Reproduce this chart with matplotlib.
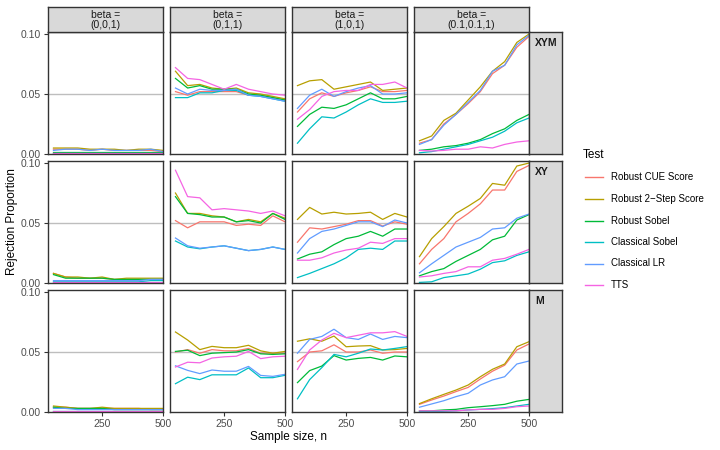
import numpy as np
import matplotlib.pyplot as plt

plt.rcParams['font.family'] = ['Liberation Sans', 'DejaVu Sans']

# sample sizes
n = [50, 100, 150, 200, 250, 300, 350, 400, 450, 500]

tests = ['Robust CUE Score', 'Robust 2\u2212Step Score', 'Robust Sobel',
         'Classical Sobel', 'Classical LR', 'TTS']
colors = ['#F8766D', '#B79F00', '#00BA38', '#00BFC4', '#619CFF', '#F564E3']

betas = ['beta =\n(0,0,1)', 'beta =\n(0,1,1)', 'beta =\n(1,0,1)', 'beta =\n(0.1,0.1,1)']
models = ['XYM', 'XY', 'M']

# rejection proportions, rows in the order of `tests`
# model XYM
xym_001 = [
    [0.004, 0.004, 0.004, 0.003, 0.004, 0.003, 0.003, 0.003, 0.003, 0.002],
    [0.005, 0.005, 0.005, 0.004, 0.004, 0.004, 0.003, 0.004, 0.004, 0.003],
    [0.002, 0.002, 0.002, 0.002, 0.002, 0.002, 0.002, 0.002, 0.002, 0.002],
    [0.001, 0.001, 0.001, 0.001, 0.001, 0.001, 0.001, 0.001, 0.001, 0.001],
    [0.003, 0.004, 0.004, 0.003, 0.004, 0.003, 0.003, 0.003, 0.004, 0.002],
    [0.001, 0.001, 0.001, 0.001, 0.001, 0.001, 0.001, 0.001, 0.001, 0.001],
]
xym_011 = [
    [0.052, 0.049, 0.052, 0.052, 0.052, 0.052, 0.049, 0.049, 0.047, 0.045],
    [0.069, 0.057, 0.058, 0.055, 0.054, 0.055, 0.051, 0.050, 0.048, 0.046],
    [0.063, 0.055, 0.057, 0.054, 0.054, 0.054, 0.050, 0.049, 0.047, 0.045],
    [0.047, 0.047, 0.051, 0.051, 0.053, 0.053, 0.049, 0.048, 0.046, 0.044],
    [0.055, 0.050, 0.054, 0.053, 0.053, 0.054, 0.049, 0.048, 0.046, 0.044],
    [0.072, 0.063, 0.062, 0.058, 0.054, 0.058, 0.054, 0.052, 0.050, 0.049],
]
xym_101 = [
    [0.035, 0.046, 0.051, 0.048, 0.051, 0.053, 0.056, 0.052, 0.052, 0.053],
    [0.057, 0.061, 0.062, 0.054, 0.056, 0.058, 0.060, 0.053, 0.054, 0.055],
    [0.023, 0.033, 0.039, 0.038, 0.041, 0.046, 0.051, 0.046, 0.046, 0.048],
    [0.009, 0.021, 0.031, 0.030, 0.035, 0.041, 0.046, 0.043, 0.043, 0.044],
    [0.038, 0.049, 0.054, 0.048, 0.052, 0.055, 0.057, 0.050, 0.050, 0.051],
    [0.029, 0.037, 0.048, 0.052, 0.053, 0.053, 0.058, 0.058, 0.060, 0.055],
]
xym_pp1 = [
    [0.009, 0.012, 0.025, 0.033, 0.042, 0.052, 0.067, 0.074, 0.089, 0.098],
    [0.011, 0.015, 0.028, 0.034, 0.045, 0.056, 0.069, 0.077, 0.093, 0.100],
    [0.003, 0.004, 0.006, 0.007, 0.009, 0.012, 0.017, 0.021, 0.028, 0.033],
    [0.001, 0.002, 0.004, 0.006, 0.008, 0.011, 0.014, 0.019, 0.026, 0.030],
    [0.008, 0.012, 0.024, 0.033, 0.043, 0.053, 0.069, 0.074, 0.091, 0.099],
    [0.003, 0.0025, 0.003, 0.004, 0.004, 0.006, 0.005, 0.008, 0.010, 0.011],
]
# model XY
xy_001 = [
    [0.008, 0.005, 0.004, 0.004, 0.004, 0.003, 0.003, 0.003, 0.003, 0.003],
    [0.008, 0.005, 0.005, 0.004, 0.005, 0.003, 0.004, 0.004, 0.004, 0.004],
    [0.007, 0.004, 0.004, 0.004, 0.004, 0.003, 0.003, 0.003, 0.003, 0.003],
    [0.001, 0.001, 0.001, 0.001, 0.001, 0.001, 0.001, 0.001, 0.002, 0.002],
    [0.002, 0.002, 0.002, 0.002, 0.002, 0.002, 0.002, 0.002, 0.003, 0.003],
    [0.001, 0.001, 0.001, 0.001, 0.001, 0.001, 0.001, 0.001, 0.001, 0.001],
]
xy_011 = [
    [0.052, 0.046, 0.051, 0.051, 0.051, 0.048, 0.049, 0.048, 0.056, 0.051],
    [0.075, 0.058, 0.058, 0.056, 0.055, 0.051, 0.053, 0.051, 0.058, 0.054],
    [0.072, 0.058, 0.057, 0.055, 0.055, 0.051, 0.052, 0.050, 0.058, 0.053],
    [0.035, 0.030, 0.0285, 0.030, 0.031, 0.029, 0.027, 0.028, 0.030, 0.028],
    [0.0375, 0.031, 0.029, 0.030, 0.031, 0.029, 0.027, 0.028, 0.030, 0.028],
    [0.094, 0.072, 0.071, 0.061, 0.062, 0.061, 0.060, 0.058, 0.060, 0.056],
]
xy_101 = [
    [0.034, 0.046, 0.045, 0.047, 0.049, 0.052, 0.052, 0.0475, 0.051, 0.049],
    [0.053, 0.063, 0.0575, 0.059, 0.0575, 0.058, 0.059, 0.053, 0.058, 0.055],
    [0.020, 0.024, 0.026, 0.032, 0.037, 0.039, 0.043, 0.039, 0.045, 0.045],
    [0.0045, 0.008, 0.012, 0.016, 0.021, 0.028, 0.029, 0.028, 0.035, 0.035],
    [0.025, 0.037, 0.043, 0.045, 0.048, 0.051, 0.051, 0.047, 0.0525, 0.050],
    [0.019, 0.019, 0.021, 0.025, 0.0275, 0.029, 0.034, 0.033, 0.037, 0.037],
]
xy_pp1 = [
    [0.016, 0.028, 0.037, 0.051, 0.058, 0.066, 0.0775, 0.0775, 0.093, 0.098],
    [0.022, 0.037, 0.047, 0.058, 0.064, 0.0705, 0.083, 0.0815, 0.0975, 0.100],
    [0.006, 0.0095, 0.012, 0.018, 0.023, 0.028, 0.036, 0.039, 0.0525, 0.057],
    [0.0005, 0.001, 0.0045, 0.006, 0.0075, 0.0115, 0.017, 0.0185, 0.023, 0.026],
    [0.0085, 0.016, 0.023, 0.030, 0.034, 0.038, 0.045, 0.046, 0.054, 0.0575],
    [0.005, 0.006, 0.008, 0.0095, 0.0135, 0.0135, 0.019, 0.0205, 0.024, 0.028],
]
# model M
m_001 = [
    [0.004, 0.004, 0.003, 0.003, 0.003, 0.003, 0.003, 0.003, 0.002, 0.002],
    [0.005, 0.004, 0.003, 0.003, 0.004, 0.003, 0.003, 0.003, 0.003, 0.003],
    [0.004, 0.003, 0.003, 0.003, 0.003, 0.002, 0.002, 0.002, 0.002, 0.002],
    [0.001, 0.001, 0.001, 0.001, 0.001, 0.001, 0.001, 0.001, 0.001, 0.001],
    [0.003, 0.003, 0.002, 0.002, 0.002, 0.002, 0.002, 0.002, 0.002, 0.002],
    [0.001, 0.001, 0.001, 0.001, 0.001, 0.001, 0.001, 0.001, 0.001, 0.001],
]
m_011 = [
    [0.050, 0.052, 0.049, 0.052, 0.051, 0.051, 0.053, 0.049, 0.049, 0.049],
    [0.0667, 0.060, 0.052, 0.0547, 0.0536, 0.0536, 0.0556, 0.051, 0.049, 0.0505],
    [0.0505, 0.0515, 0.047, 0.049, 0.0495, 0.050, 0.052, 0.0485, 0.048, 0.0485],
    [0.0236, 0.029, 0.027, 0.031, 0.031, 0.031, 0.0367, 0.0286, 0.0286, 0.0306],
    [0.0385, 0.0347, 0.032, 0.035, 0.034, 0.034, 0.038, 0.0305, 0.0297, 0.0314],
    [0.0375, 0.0415, 0.041, 0.045, 0.046, 0.0465, 0.0505, 0.0445, 0.046, 0.0465],
]
m_101 = [
    [0.042, 0.050, 0.051, 0.056, 0.050, 0.050, 0.0517, 0.049, 0.050, 0.050],
    [0.059, 0.061, 0.059, 0.0633, 0.0544, 0.055, 0.0553, 0.0517, 0.052, 0.053],
    [0.0245, 0.0345, 0.0383, 0.047, 0.0433, 0.0447, 0.0455, 0.0433, 0.0467, 0.046],
    [0.011, 0.027, 0.037, 0.048, 0.046, 0.049, 0.0525, 0.0517, 0.053, 0.0545],
    [0.049, 0.0605, 0.063, 0.069, 0.062, 0.0605, 0.065, 0.0605, 0.063, 0.062],
    [0.0355, 0.0517, 0.060, 0.0656, 0.062, 0.064, 0.066, 0.066, 0.067, 0.063],
]
m_pp1 = [
    [0.0064, 0.010, 0.0133, 0.017, 0.0205, 0.0275, 0.034, 0.039, 0.0517, 0.0567],
    [0.007, 0.011, 0.0147, 0.0183, 0.0225, 0.0294, 0.0356, 0.040, 0.0544, 0.0586],
    [0.001, 0.001, 0.0017, 0.0022, 0.0036, 0.0044, 0.0053, 0.0064, 0.009, 0.0105],
    [0.0003, 0.0003, 0.0006, 0.001, 0.0017, 0.0022, 0.0028, 0.0036, 0.005, 0.0064],
    [0.004, 0.0067, 0.0094, 0.0128, 0.0156, 0.0225, 0.0267, 0.0294, 0.040, 0.0425],
    [0.001, 0.001, 0.001, 0.001, 0.0017, 0.0022, 0.0022, 0.003, 0.0044, 0.005],
]

panels = [
    [xym_001, xym_011, xym_101, xym_pp1],
    [xy_001, xy_011, xy_101, xy_pp1],
    [m_001, m_011, m_101, m_pp1],
]

W, H = 720, 450
fig = plt.figure(figsize=(7.2, 4.5), dpi=100)

def box(x, y, w, h):
    # pixel box (top-left origin) -> figure fraction
    return [x / W, 1 - (y + h) / H, w / W, h / H]

col_left = [48, 170, 292, 414]
row_top = [32, 161, 290]
pw, ph = 115, 122
edge = '#333333'
tick_col = '#4D4D4D'

for r in range(3):
    for c in range(4):
        ax = fig.add_axes(box(col_left[c], row_top[r], pw, ph))
        ax.axhline(0.05, color='#BEBEBE', lw=1.0, zorder=1)
        for k in range(6):
            ax.plot(n, panels[r][c][k], color=colors[k], lw=0.9, zorder=2)
        ax.set_xlim(27.5, 500)
        ax.set_ylim(0, 0.1017)
        ax.set_xticks([250, 500])
        ax.set_yticks([0, 0.05, 0.10])
        ax.tick_params(length=3, width=0.8, color=edge, labelsize=7.5,
                       labelcolor=tick_col, pad=2)
        if c == 0:
            ax.set_yticklabels(['0.00', '0.05', '0.10'])
        else:
            ax.tick_params(axis='y', length=0, labelleft=False)
        if r != 2:
            ax.tick_params(axis='x', length=0, labelbottom=False)
        for s in ax.spines.values():
            s.set_color(edge)
            s.set_linewidth(1.0)

# top strips
for c in range(4):
    sa = fig.add_axes(box(col_left[c], 7, pw, 25))
    sa.set_xticks([]); sa.set_yticks([])
    sa.set_facecolor('#D9D9D9')
    for s in sa.spines.values():
        s.set_color(edge); s.set_linewidth(1.0)
    sa.text(0.5, 0.5, betas[c], ha='center', va='center', fontsize=7.5,
            color='#1A1A1A', linespacing=1.0, transform=sa.transAxes)

# right strips
for r in range(3):
    sa = fig.add_axes(box(529, row_top[r], 33, ph))
    sa.set_xticks([]); sa.set_yticks([])
    sa.set_facecolor('#D9D9D9')
    for s in sa.spines.values():
        s.set_color(edge); s.set_linewidth(1.0)
    sa.annotate(models[r], xy=(0, 1), xycoords='axes fraction',
                xytext=(4.5, -4.5), textcoords='offset points',
                ha='left', va='top', fontsize=7.5, fontweight='bold',
                color='#1A1A1A')

# axis titles
fig.text(289 / W, 1 - 437 / H, 'Sample size, n', ha='center', va='center', fontsize=8.5)
fig.text(12 / W, 1 - 222 / H, 'Rejection Proportion', ha='center', va='center',
         rotation=90, fontsize=8.5)

# legend
fig.text(583 / W, 1 - 155 / H, 'Test', ha='left', va='center', fontsize=8.5)
for k, name in enumerate(tests):
    yy = 1 - (177.5 + 21.5 * k) / H
    fig.add_artist(plt.Line2D([585 / W, 603 / W], [yy, yy], color=colors[k], lw=1.0))
    fig.text(611 / W, yy, name, ha='left', va='center', fontsize=7)

fig.savefig('out.png', dpi=100)
